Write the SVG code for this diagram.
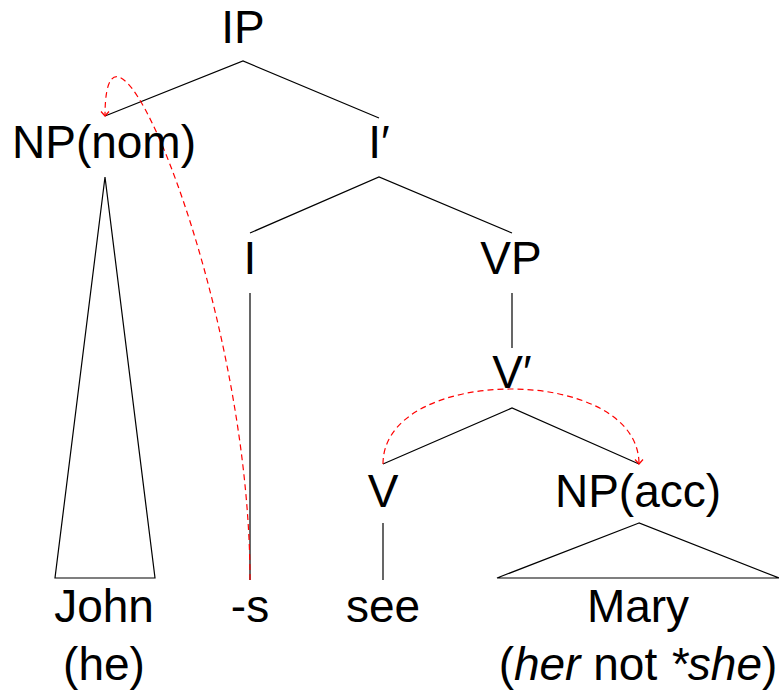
<svg xmlns="http://www.w3.org/2000/svg" width="779" height="691" viewBox="0 0 779 691">
  <style>
    .lbl { font-family: "Liberation Sans", "DejaVu Sans", Arial, sans-serif; font-size: 46px; fill: #000; text-anchor: middle; }
    .edge { stroke: #000; stroke-width: 1.2; fill: none; }
    .move { stroke: #ff0000; stroke-width: 1.2; fill: none; stroke-dasharray: 6 4; marker-end: url(#head); }
  </style>
  <defs>
    <marker id="head" viewBox="-6 -6 12 12" markerWidth="12" markerHeight="12" markerUnits="userSpaceOnUse" refX="0" refY="0" orient="auto">
      <path d="M -4.5 -4 L 0 0 L -4.5 4" fill="none" stroke="#ff0000" stroke-width="1.2"/>
    </marker>
  </defs>
  <rect width="779" height="691" fill="#fff"/>

  <!-- tree branches -->
  <g id="connectors">
    <polyline class="edge" points="105,116 243,61 379,118"/>
    <polyline class="edge" points="250,233 379,177 512,233"/>
    <line class="edge" x1="250" y1="293" x2="250" y2="580"/>
    <line class="edge" x1="512" y1="293" x2="512" y2="348"/>
    <polyline class="edge" points="383,464 512,408 639,464"/>
    <line class="edge" x1="383" y1="523" x2="383" y2="580"/>
    <polygon class="edge" points="105,177 55,578 155,578"/>
    <polygon class="edge" points="639,523 497,578 779,578"/>
  </g>

  <!-- movement arrows -->
  <g id="movement">
    <path class="move" d="M 250 580 C 250 300 105 -40 105 116"/>
    <path class="move" d="M 383 464 C 383 364 639 364 639 464"/>
  </g>

  <g id="n-ip"><text class="lbl" x="243" y="43">IP</text></g>
  <g id="n-npnom"><text class="lbl" x="104" y="158">NP(nom)</text></g>
  <g id="n-ibar"><text class="lbl" x="379" y="158">I′</text></g>
  <g id="n-i"><text class="lbl" x="250" y="274">I</text></g>
  <g id="n-vp"><text class="lbl" x="511" y="274">VP</text></g>
  <g id="n-vbar"><text class="lbl" x="512" y="388">V′</text></g>
  <g id="n-v"><text class="lbl" x="383" y="507">V</text></g>
  <g id="n-npacc"><text class="lbl" x="638" y="507">NP(acc)</text></g>
  <g id="w-john">
    <text class="lbl" x="104" y="622">John</text>
    <text class="lbl" x="104" y="680">(he)</text>
  </g>
  <g id="w-s"><text class="lbl" x="250" y="622">-s</text></g>
  <g id="w-see"><text class="lbl" x="383" y="622">see</text></g>
  <g id="w-mary">
    <text class="lbl" x="638" y="622">Mary</text>
    <text class="lbl" x="638" y="680">(<tspan font-style="italic">her</tspan> not <tspan font-style="italic">*she</tspan>)</text>
  </g>
</svg>
